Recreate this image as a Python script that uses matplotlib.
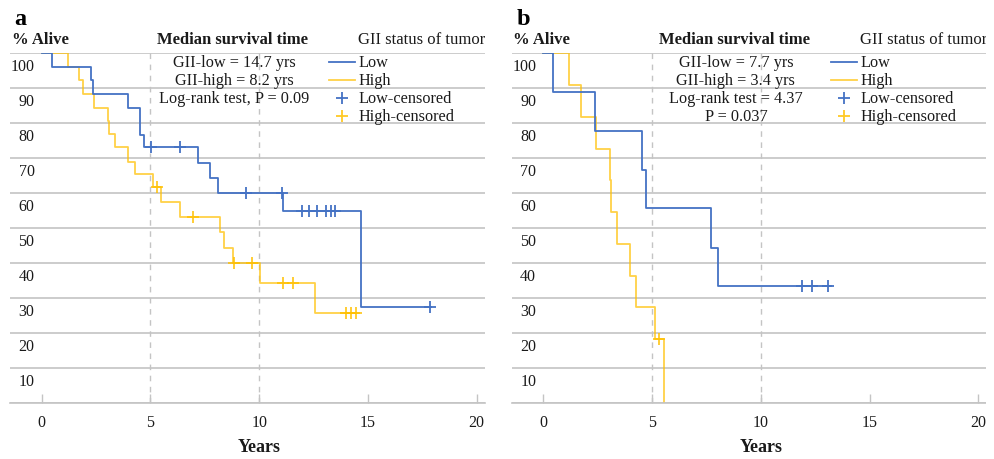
import numpy as np
import matplotlib
matplotlib.use("Agg")
import matplotlib.pyplot as plt
from matplotlib.patches import Rectangle

plt.rcParams['font.family'] = ['Liberation Serif', 'DejaVu Serif']

# ---------------- data ----------------
# Panel a
a_low_t = [0, 0.46, 2.27, 2.34, 3.95, 4.52, 4.72, 7.20, 7.74, 8.10, 11.08, 14.67, 17.90]
a_low_s = [100, 96.0, 92.2, 88.4, 84.4, 76.7, 73.1, 68.6, 64.3, 60.0, 55.0, 27.5, 27.5]
a_low_cens = [5.03, 6.37, 9.39, 11.03, 11.97, 12.31, 12.64, 13.07, 13.29, 13.50, 17.85]

a_high_t = [0, 1.20, 1.72, 1.90, 2.42, 3.05, 3.11, 3.35, 3.98, 4.28, 5.13, 5.49, 6.36,
            8.21, 8.40, 8.79, 10.03, 12.57, 14.60]
a_high_s = [100, 96.0, 92.2, 88.4, 84.4, 80.6, 76.8, 73.1, 68.9, 65.4, 61.6, 57.5, 53.2,
            48.9, 44.4, 40.0, 34.3, 25.6, 25.6]
a_high_cens = [5.31, 6.94, 8.84, 9.67, 11.11, 11.57, 14.00, 14.22, 14.45]

# Panel b
b_low_t = [0, 0.44, 2.37, 4.55, 4.71, 7.71, 8.05, 13.22]
b_low_s = [100, 88.9, 77.8, 66.7, 55.6, 44.4, 33.3, 33.3]
b_low_cens = [11.91, 12.33, 13.09]

b_high_t = [0, 1.20, 1.71, 2.43, 3.04, 3.11, 3.37, 3.98, 4.26, 5.12, 5.53]
b_high_s = [100, 90.9, 81.8, 72.7, 63.6, 54.5, 45.5, 36.4, 27.3, 18.2, 0]
b_high_cens = [5.32]

panel_letters = ['a', 'b']
median_texts = [
    ['GII-low = 14.7 yrs', 'GII-high = 8.2 yrs', 'Log-rank test, P = 0.09'],
    ['GII-low = 7.7 yrs', 'GII-high = 3.4 yrs', 'Log-rank test = 4.37', 'P = 0.037'],
]
legend_labels = ['Low', 'High', 'Low-censored', 'High-censored']
y_ticks = [10, 20, 30, 40, 50, 60, 70, 80, 90, 100]
x_ticks = [0, 5, 10, 15, 20]

BLUE = '#4472C4'
GOLD = '#FFC000'
GRID = '#C4C4C4'
TXT = '#1a1a1a'

fig = plt.figure(figsize=(9.94, 4.60), dpi=100)

W, H = 994.0, 460.0
ax_w = 475 / W
ax_h = (404 - 54) / H
ax_b = (H - 404) / H
lefts = [10 / W, 511.7 / W]

panels = [
    (a_low_t, a_low_s, a_low_cens, a_high_t, a_high_s, a_high_cens),
    (b_low_t, b_low_s, b_low_cens, b_high_t, b_high_s, b_high_cens),
]


def level_at(t, s, ct):
    t = np.asarray(t)
    s = np.asarray(s)
    idx = np.searchsorted(t, np.asarray(ct), side='right') - 1
    return s[idx]


for k, (lt, ls, lc, ht, hs, hc) in enumerate(panels):
    ax = fig.add_axes([lefts[k], ax_b, ax_w, ax_h])
    ax.set_xlim(-1.457, 20.38)
    ax.set_ylim(0, 100)
    for sp in ['left', 'right', 'top']:
        ax.spines[sp].set_visible(False)
    ax.spines['bottom'].set_color(GRID)
    ax.spines['bottom'].set_linewidth(1.2)

    # horizontal grid
    for v in [0] + y_ticks:
        ax.axhline(v, color=GRID, lw=1.2, zorder=0)
    # dashed vertical
    for v in [5, 10]:
        ax.axvline(v, color=GRID, lw=1.0, ls=(0, (4, 4)), zorder=0)

    ax.set_yticks([])
    ax.set_xticks(x_ticks)
    ax.set_xticklabels([str(v) for v in x_ticks])
    ax.tick_params(axis='x', direction='in', length=6.5, width=1.0, color=GRID,
                   pad=8, labelsize=11.5, labelcolor=TXT)

    # y labels (drawn just below their gridline)
    for v in y_ticks:
        ax.text(-0.33, v - 3.6, str(v), ha='right', va='center', fontsize=11.5,
                color=TXT)

    # curves
    ax.step(lt, ls, where='post', color=BLUE, lw=1.3, zorder=3)
    ax.step(ht, hs, where='post', color=GOLD, lw=1.3, alpha=0.72, zorder=2)
    ax.plot(lc, level_at(lt, ls, lc), ls='none', marker='+', ms=8.5, mew=1.3,
            color=BLUE, zorder=4)
    ax.plot(hc, level_at(ht, hs, hc), ls='none', marker='+', ms=8.5, mew=1.3,
            color=GOLD, alpha=0.85, zorder=4)

    # headers
    ax.text(-1.38, 102.9, '% Alive', ha='left', va='baseline', fontsize=12,
            fontweight='bold', color=TXT, clip_on=False)
    ax.text(8.78, 102.9, 'Median survival time', ha='center', va='baseline',
            fontsize=12, fontweight='bold', color=TXT, clip_on=False)
    ax.text(14.56, 102.9, 'GII status of tumor', ha='left', va='baseline',
            fontsize=12, color=TXT, clip_on=False)
    ax.text(-1.25, 108.3, panel_letters[k], ha='left', va='baseline',
            fontsize=17.5, fontweight='bold', color='black', clip_on=False)

    # median survival text
    ys = [97.4, 92.3, 87.1, 82.0]
    for j, line in enumerate(median_texts[k]):
        ax.text(8.85, ys[j], line, ha='center', va='center', fontsize=11.7,
                color=TXT)

    # manual legend
    ax.plot([13.2, 14.4], [ys[0], ys[0]], color=BLUE, lw=1.3)
    ax.plot([13.2, 14.4], [ys[1], ys[1]], color=GOLD, lw=1.3, alpha=0.72)
    ax.plot([13.8], [ys[2]], marker='+', ms=8, mew=1.3, color=BLUE, ls='none')
    ax.plot([13.8], [ys[3]], marker='+', ms=8, mew=1.3, color=GOLD, alpha=0.85,
            ls='none')
    for j, lab in enumerate(legend_labels):
        ax.text(14.56, ys[j], lab, ha='left', va='center', fontsize=11.7,
                color=TXT)

    # x label
    ax.text(10.0, -0.125, 'Years', transform=ax.get_xaxis_transform(),
            ha='center', va='center', fontsize=13, fontweight='bold',
            color=TXT, clip_on=False)

# the reference image is cropped at its right edge
fig.patches.append(Rectangle((986 / W, 0), 1, 1, transform=fig.transFigure,
                             facecolor='white', edgecolor='none', zorder=100))

fig.savefig('out.png', dpi=100)
